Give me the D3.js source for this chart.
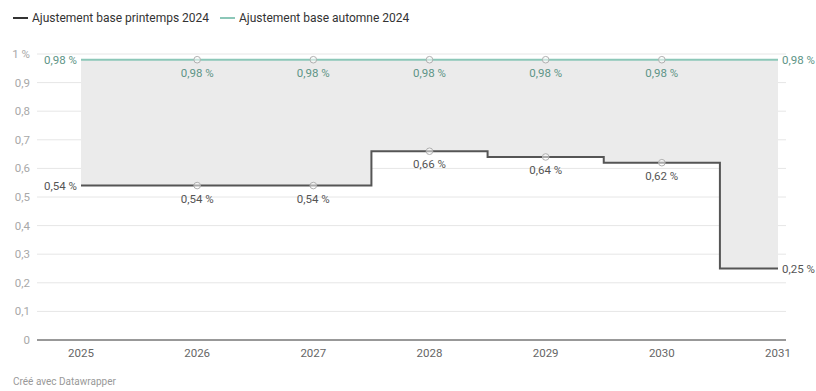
<!DOCTYPE html>
<html>
<head>
<meta charset="utf-8">
<script src="https://cdn.jsdelivr.net/npm/d3@7"></script>
<style>
  body { margin: 0; background: #fff; font-family: Roboto, "Noto Sans", sans-serif; }
  svg text { font-family: Roboto, "Noto Sans", sans-serif; }
</style>
</head>
<body>
<div id="chart"></div>
<script>
const years = [2025, 2026, 2027, 2028, 2029, 2030, 2031];
const printemps = [0.54, 0.54, 0.54, 0.66, 0.64, 0.62, 0.25];
const automne = [0.98, 0.98, 0.98, 0.98, 0.98, 0.98, 0.98];
const yTicks = [0, 0.1, 0.2, 0.3, 0.4, 0.5, 0.6, 0.7, 0.8, 0.9, 1];
const legendLabels = ["Ajustement base printemps 2024", "Ajustement base automne 2024"];

const width = 816, height = 391;
const grey = "#555", teal = "#8cc7b8", tealText = "#5d9486";
const fmt = v => v.toFixed(2).replace(".", ",") + " %";

const svg = d3.select("#chart").append("svg")
  .attr("width", width).attr("height", height);

const x = d3.scaleLinear().domain([2025, 2031]).range([81, 778]);
const y = d3.scaleLinear().domain([0, 1]).range([340, 54]);

// gridlines + y labels
svg.append("g").selectAll("line").data(yTicks.slice(1)).join("line")
  .attr("x1", 37).attr("x2", 786)
  .attr("y1", d => y(d)).attr("y2", d => y(d))
  .attr("stroke", "#e6e6e6").attr("stroke-width", 1);

svg.append("g").selectAll("text").data(yTicks).join("text")
  .attr("x", 30).attr("y", d => y(d) + 4)
  .attr("text-anchor", "end")
  .attr("font-size", 11.5).attr("fill", "#a8a8a8")
  .text(d => d === 1 ? "1 %" : d === 0 ? "0" : d3.format(".1f")(d).replace(".", ","));

// shaded area between lines
const rows = years.map((yr, i) => ({ yr, p: printemps[i], a: automne[i] }));
svg.append("path").datum(rows)
  .attr("fill", "#ebebeb")
  .attr("d", d3.area().curve(d3.curveStep)
    .x(d => x(d.yr)).y0(d => y(d.a)).y1(d => y(d.p)));

// x axis
const xAxis = svg.append("g").attr("transform", "translate(0,340)");
xAxis.append("line").attr("x1", 37).attr("x2", 786).attr("stroke", "#333").attr("stroke-width", 1);
xAxis.selectAll("text").data(years).join("text")
  .attr("x", d => x(d)).attr("y", 17)
  .attr("text-anchor", "middle")
  .attr("font-size", 11.5).attr("fill", "#666")
  .text(d => d);

// lines
const stepLine = key => d3.line().curve(d3.curveStep)
  .x(d => x(d.yr)).y(d => y(d[key]));

svg.append("path").datum(rows)
  .attr("fill", "none").attr("stroke", teal).attr("stroke-width", 2)
  .attr("d", stepLine("a"));
svg.append("path").datum(rows)
  .attr("fill", "none").attr("stroke", grey).attr("stroke-width", 2)
  .attr("d", stepLine("p"));

// markers and value labels
const series = [
  { key: "a", color: tealText },
  { key: "p", color: grey }
];
series.forEach(s => {
  const inner = rows.slice(1, -1);
  svg.append("g").selectAll("circle").data(inner).join("circle")
    .attr("cx", d => x(d.yr)).attr("cy", d => y(d[s.key]))
    .attr("r", 3.3).attr("fill", "#fff").attr("fill-opacity", 0.5)
    .attr("stroke", "#b0b0b0").attr("stroke-width", 1);
  svg.append("g").selectAll("text").data(inner).join("text")
    .attr("x", d => x(d.yr)).attr("y", d => y(d[s.key]) + 17)
    .attr("text-anchor", "middle")
    .attr("font-size", 11.5).attr("fill", s.color)
    .text(d => fmt(d[s.key]));
  const first = rows[0], last = rows[rows.length - 1];
  svg.append("text")
    .attr("x", x(first.yr) - 4).attr("y", y(first[s.key]) + 4)
    .attr("text-anchor", "end").attr("font-size", 11.5).attr("fill", s.color)
    .text(fmt(first[s.key]));
  svg.append("text")
    .attr("x", x(last.yr) + 4).attr("y", y(last[s.key]) + 4)
    .attr("text-anchor", "start").attr("font-size", 11.5).attr("fill", s.color)
    .text(fmt(last[s.key]));
});

// legend
const legend = svg.append("g").attr("transform", "translate(0,18)");
[{ c: "#333", x0: 13 }, { c: teal, x0: 220 }].forEach((l, i) => {
  legend.append("line").attr("x1", l.x0).attr("x2", l.x0 + 15)
    .attr("stroke", l.c).attr("stroke-width", 2);
  legend.append("text").attr("x", l.x0 + 19).attr("y", 4)
    .attr("font-size", 12).attr("fill", "#333")
    .text(legendLabels[i]);
});

svg.append("text").attr("x", 13).attr("y", 385)
  .attr("font-size", 10).attr("fill", "#999")
  .text("Créé avec Datawrapper");
</script>
</body>
</html>
